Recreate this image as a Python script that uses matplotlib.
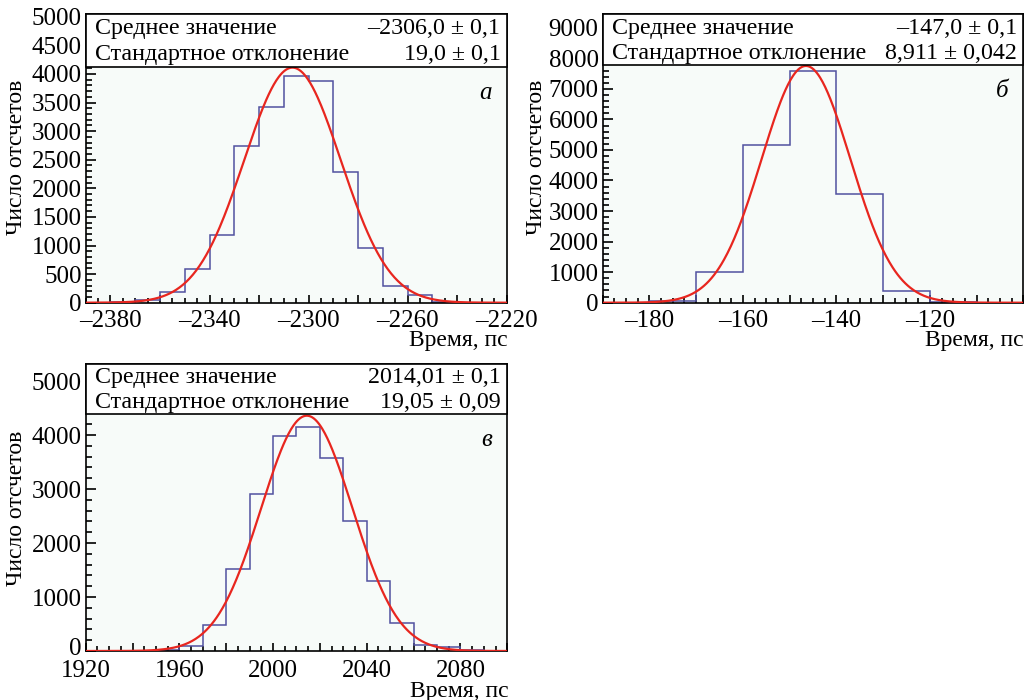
import numpy as np
import matplotlib
matplotlib.use('Agg')
import matplotlib.pyplot as plt
from matplotlib.patches import Rectangle
from matplotlib.ticker import MultipleLocator, FuncFormatter
from matplotlib.transforms import ScaledTranslation

plt.rcParams['font.family'] = ['Liberation Serif', 'DejaVu Serif']
plt.rcParams['axes.unicode_minus'] = True

W, H = 1032, 700

# ----------------------------------------------------------------------------------------- #
#                                            Data                                           #
# ----------------------------------------------------------------------------------------- #

# panel a
edges_a = np.arange(-2390, -2219, 10)
counts_a = [0, 10, 40, 190, 583, 1178, 2746, 3429, 3959, 3883, 2280, 962, 292, 134, 5, 0, 0]
fit_a = (4110, -2306.5, 19.5)          # amplitude, mean, sigma
stats_a = ['–2306,0 ± 0,1', '19,0 ± 0,1']
xlabels_a = [-2380, -2340, -2300, -2260, -2220]

# panel b
edges_b = np.arange(-190, -99, 10)
counts_b = [0, 65, 1000, 5160, 7594, 3546, 382, 30, 0]
fit_b = (7750, -146.5, 9.5)
stats_b = ['–147,0 ± 0,1', '8,911 ± 0,042']
xlabels_b = [-180, -160, -140, -120]

# panel c
edges_c = np.arange(1920, 2101, 10)
counts_c = [0, 0, 5, 20, 93, 475, 1512, 2901, 3981, 4154, 3568, 2414, 1302, 525, 117, 74, 18, 5]
fit_c = (4358, 2014.4, 19.5)
stats_c = ['2014,01 ± 0,1', '19,05 ± 0,09']
xlabels_c = [1920, 1960, 2000, 2040, 2080]

stat_names = ['Среднее значение', 'Стандартное отклонение']
y_title = 'Число отсчетов'
x_title = 'Время, пс'

HIST_COLOR = '#5151a0'
FIT_COLOR = '#e8261f'
FRAME_BG = '#f7fbf9'


def fig_box(left, top, right, bottom):
    """pixel box -> figure fraction [l, b, w, h]"""
    return [left / W, 1 - bottom / H, (right - left) / W, (bottom - top) / H]


def draw_panel(fig, box, edges, counts, fit, stats, letter, ymax, xlabels,
               x_major, x_minor, y_lab_step, y_minor, box_bottom_px,
               ylab_xy, xlab_xy, xpad=5.5):
    ax = fig.add_axes(fig_box(*box))
    ax.set_facecolor(FRAME_BG)
    ax.stairs(counts, edges, color=HIST_COLOR, lw=1.1, baseline=0, zorder=2)

    amp, mu, sig = fit
    xs = np.linspace(edges[0], edges[-1], 500)
    ax.plot(xs, amp * np.exp(-0.5 * ((xs - mu) / sig) ** 2), color=FIT_COLOR, lw=1.6, zorder=3)

    ax.set_xlim(edges[0], edges[-1])
    ax.set_ylim(0, ymax)

    for s in ['top', 'right', 'left', 'bottom']:
        ax.spines[s].set_linewidth(1.2)

    ax.xaxis.set_major_locator(MultipleLocator(x_major))
    ax.xaxis.set_minor_locator(MultipleLocator(x_minor))
    ax.xaxis.set_major_formatter(FuncFormatter(
        lambda v, p: ('%d' % round(v)).replace('-', '–') if min(abs(v - q) for q in xlabels) < 1e-6 else ''))
    ax.yaxis.set_major_locator(MultipleLocator(y_lab_step))
    ax.yaxis.set_minor_locator(MultipleLocator(y_minor))
    ax.yaxis.set_major_formatter(FuncFormatter(lambda v, p: '%d' % round(v)))

    ax.tick_params(axis='both', which='both', direction='in', top=False, right=False,
                   labelsize=18, width=1.2)
    ax.tick_params(axis='x', which='major', length=6, pad=xpad)
    ax.tick_params(axis='x', which='minor', length=3.5)
    ax.tick_params(axis='y', which='major', length=7, pad=3)
    ax.tick_params(axis='y', which='minor', length=4)

    # stats box
    l, t, r, b = box
    frac = (b - box_bottom_px) / (b - t)
    ax.add_patch(Rectangle((0, frac), 1, 1 - frac, transform=ax.transAxes,
                           facecolor='white', edgecolor='black', lw=1.2, zorder=5, clip_on=False))
    row_h = (1 - frac) / 2
    for i, (name, val) in enumerate(zip(stat_names, stats)):
        yy = 1 - row_h * (i + 0.5) - 0.004
        ax.text(0.022, yy, name, transform=ax.transAxes, fontsize=17.3,
                ha='left', va='center', zorder=6)
        ax.text(0.985, yy, val, transform=ax.transAxes, fontsize=17.3,
                ha='right', va='center', zorder=6)

    ax.text(0.95, frac - 0.09, letter, transform=ax.transAxes, fontsize=18,
            style='italic', ha='center', va='center', zorder=6)

    fig.text(ylab_xy[0] / W, 1 - ylab_xy[1] / H, y_title, rotation=90,
             fontsize=17, ha='center', va='center')
    fig.text(xlab_xy[0] / W, 1 - xlab_xy[1] / H, x_title,
             fontsize=17, ha='right', va='center')
    return ax


fig = plt.figure(figsize=(W / 100, H / 100), dpi=100)

draw_panel(fig, (85.7, 14.3, 506.7, 302.7), edges_a, counts_a, fit_a, stats_a, 'а', 5042,
           xlabels_a, 20, 5, 500, 100, 66.7, (17, 157), (508, 340))
draw_panel(fig, (602.7, 14.3, 1023.3, 302.7), edges_b, counts_b, fit_b, stats_b, 'б', 9440,
           xlabels_b, 10, 2.5, 1000, 200, 65.0, (536, 157), (1024, 340))
ax_c = draw_panel(fig, (85.7, 364, 507.3, 651), edges_c, counts_c, fit_c, stats_c, 'в', 5315,
                  xlabels_c, 20, 5, 1000, 200, 414.0, (17, 508), (509, 691), xpad=6.5)

# lift the "0" label of the lower panel a little so it clears "1920"
fig.canvas.draw()
for lab in ax_c.get_yticklabels():
    if lab.get_text() == '0':
        lab.set_transform(lab.get_transform() + ScaledTranslation(0, 3 / 72, fig.dpi_scale_trans))

fig.savefig('out.png', dpi=100)
